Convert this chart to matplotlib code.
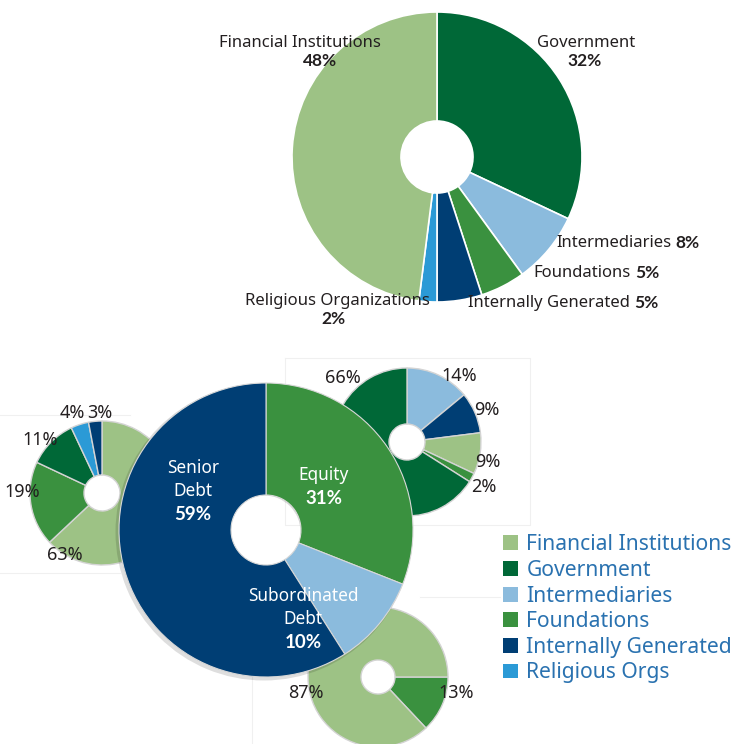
import matplotlib.pyplot as plt
from matplotlib.patches import Wedge, Patch

# canvas size in pixels
W, H = 735, 744

# colours per funding source
src_colors = {
    'Financial Institutions': '#9dc285',
    'Government': '#006837',
    'Intermediaries': '#8bbbdd',
    'Foundations': '#3a913f',
    'Internally Generated': '#003e74',
    'Religious Orgs': '#2b9ad6',
}
legend_names = ['Financial Institutions', 'Government', 'Intermediaries',
                'Foundations', 'Internally Generated', 'Religious Orgs']

# top donut: all capital by source (clockwise from 12 o'clock)
top_sources = ['Government', 'Intermediaries', 'Foundations',
               'Internally Generated', 'Religious Orgs', 'Financial Institutions']
top_values = [32, 8, 5, 5, 2, 48]
top_labels = ['Government', 'Intermediaries', 'Foundations',
              'Internally Generated', 'Religious Organizations', 'Financial Institutions']

# big pie: capital type
debt_types = ['Equity', 'Subordinated\nDebt', 'Senior\nDebt']
debt_values = [31, 10, 59]
debt_colors = ['#3a913f', '#8bbbdd', '#003e74']

# small donuts: source split per capital type
senior_sources = ['Financial Institutions', 'Foundations', 'Government',
                  'Religious Orgs', 'Internally Generated']
senior_values = [63, 19, 11, 4, 3]

equity_sources = ['Intermediaries', 'Internally Generated', 'Financial Institutions',
                  'Foundations', 'Government']
equity_values = [14, 9, 9, 2, 66]

sub_sources = ['Foundations', 'Financial Institutions']
sub_values = [13, 87]

TXT = '#231f20'
plt.rcParams['font.family'] = ['Noto Sans', 'DejaVu Sans']
BOLD = dict(family=['Lato', 'DejaVu Sans'], fontweight='bold')


def Y(y):
    # pixel row (from top) -> data y
    return H - y


def donut(ax, values, sources, cx, cy, r, hole, start=90, edge='white', lw=1.0):
    ax.pie(values, colors=[src_colors[s] for s in sources], center=(cx, Y(cy)),
           radius=r, startangle=start, counterclock=False,
           wedgeprops=dict(width=r - hole, edgecolor=edge, linewidth=lw))


fig = plt.figure(figsize=(W / 100, H / 100), dpi=100)
ax = fig.add_axes([0, 0, 1, 1])

# faint frames of the small charts
frame = dict(color='#f0f0f0', lw=0.8, zorder=0)
ax.plot([0, 130], [Y(415), Y(415)], **frame)
ax.plot([0, 120], [Y(573), Y(573)], **frame)
ax.plot([285, 530, 530, 285, 285], [Y(358), Y(358), Y(525), Y(525), Y(358)], **frame)
ax.plot([252, 252], [Y(600), Y(744)], **frame)
ax.plot([420, 500], [Y(597), Y(597)], **frame)

# top donut
donut(ax, top_values, top_sources, 437, 157, 145, 36, lw=1.2)

# small donuts behind the big pie
donut(ax, senior_values, senior_sources, 102, 493, 72, 18, edge='#d4d4d4', lw=1.0)
donut(ax, equity_values, equity_sources, 407, 442, 74, 18, edge='#d4d4d4', lw=1.0)
donut(ax, sub_values, sub_sources, 378, 677, 70, 17, start=0, edge='#d4d4d4', lw=1.0)

# soft shadow under the big pie, then the pie itself
ax.add_patch(Wedge((264, Y(532)), 148.5, 0, 360, width=112, color='#000000',
                   alpha=0.13, lw=0, zorder=1))
ax.pie(debt_values, colors=debt_colors, center=(266, Y(530)), radius=147,
       startangle=90, counterclock=False,
       wedgeprops=dict(width=147 - 35, edgecolor='#d8d8d8', linewidth=0.8))

# top donut labels
fs = 12
pfs = 12.5
ax.text(300, Y(43), top_labels[5], ha='center', va='center', fontsize=fs, color=TXT)
ax.text(320, Y(61), f'{top_values[5]}%', ha='center', va='center', fontsize=pfs,
        color=TXT, **BOLD)
ax.text(586, Y(43), top_labels[0], ha='center', va='center', fontsize=fs, color=TXT)
ax.text(585, Y(61), f'{top_values[0]}%', ha='center', va='center', fontsize=pfs,
        color=TXT, **BOLD)
ax.text(337, Y(301), top_labels[4], ha='center', va='center', fontsize=fs, color=TXT)
ax.text(333, Y(319), f'{top_values[4]}%', ha='center', va='center', fontsize=pfs,
        color=TXT, **BOLD)
for name, val, (x, y) in zip(top_labels[1:4], top_values[1:4],
                             [(700, 243), (659, 273), (658, 303)]):
    t = ax.text(x, Y(y), f'{val}%', ha='right', va='center', fontsize=pfs,
                color=TXT, **BOLD)
    ax.annotate(name, xy=(0, 0.5), xycoords=t, xytext=(-3, 0),
                textcoords='offset points', ha='right', va='center',
                fontsize=fs, color=TXT)

# big pie labels, one text per line
big_fs = 12.4
big_pos = [(324, 475), (303, 596), (193, 468)]
for name, val, (x, y) in zip(debt_types, debt_values, big_pos):
    lines = name.split('\n')
    for i, ln in enumerate(lines):
        ax.text(x, Y(y + 23 * i), ln, ha='center', va='center', fontsize=big_fs,
                color='white')
    ax.text(x, Y(y + 23 * len(lines)), f'{val}%', ha='center', va='center',
            fontsize=13.5, color='white', **BOLD)

# small donut labels
small_fs = 13
for val, (x, y) in zip(senior_values, [(65, 555), (22, 492), (40, 440), (72, 413), (100, 413)]):
    ax.text(x, Y(y), f'{val}%', ha='center', va='center', fontsize=small_fs, color=TXT)
for val, (x, y) in zip(equity_values, [(459, 376), (487, 410), (488, 462), (484, 487), (343, 378)]):
    ax.text(x, Y(y), f'{val}%', ha='center', va='center', fontsize=small_fs, color=TXT)
for val, (x, y) in zip(sub_values, [(456, 693), (306, 693)]):
    ax.text(x, Y(y), f'{val}%', ha='center', va='center', fontsize=small_fs, color=TXT)

# legend
handles = [Patch(facecolor=src_colors[n], edgecolor='none') for n in legend_names]
ax.legend(handles, legend_names, loc='upper left',
          bbox_to_anchor=(499 / W, 1 - 530 / H), frameon=False,
          fontsize=15.2, labelcolor='#2a72b0', handlelength=0.7, handleheight=0.7,
          handletextpad=0.4, labelspacing=0.22, borderaxespad=0, borderpad=0.2)

ax.set_xlim(0, W)
ax.set_ylim(0, H)
ax.set_aspect('equal')
ax.set_axis_off()

fig.savefig('out.png', dpi=100)
